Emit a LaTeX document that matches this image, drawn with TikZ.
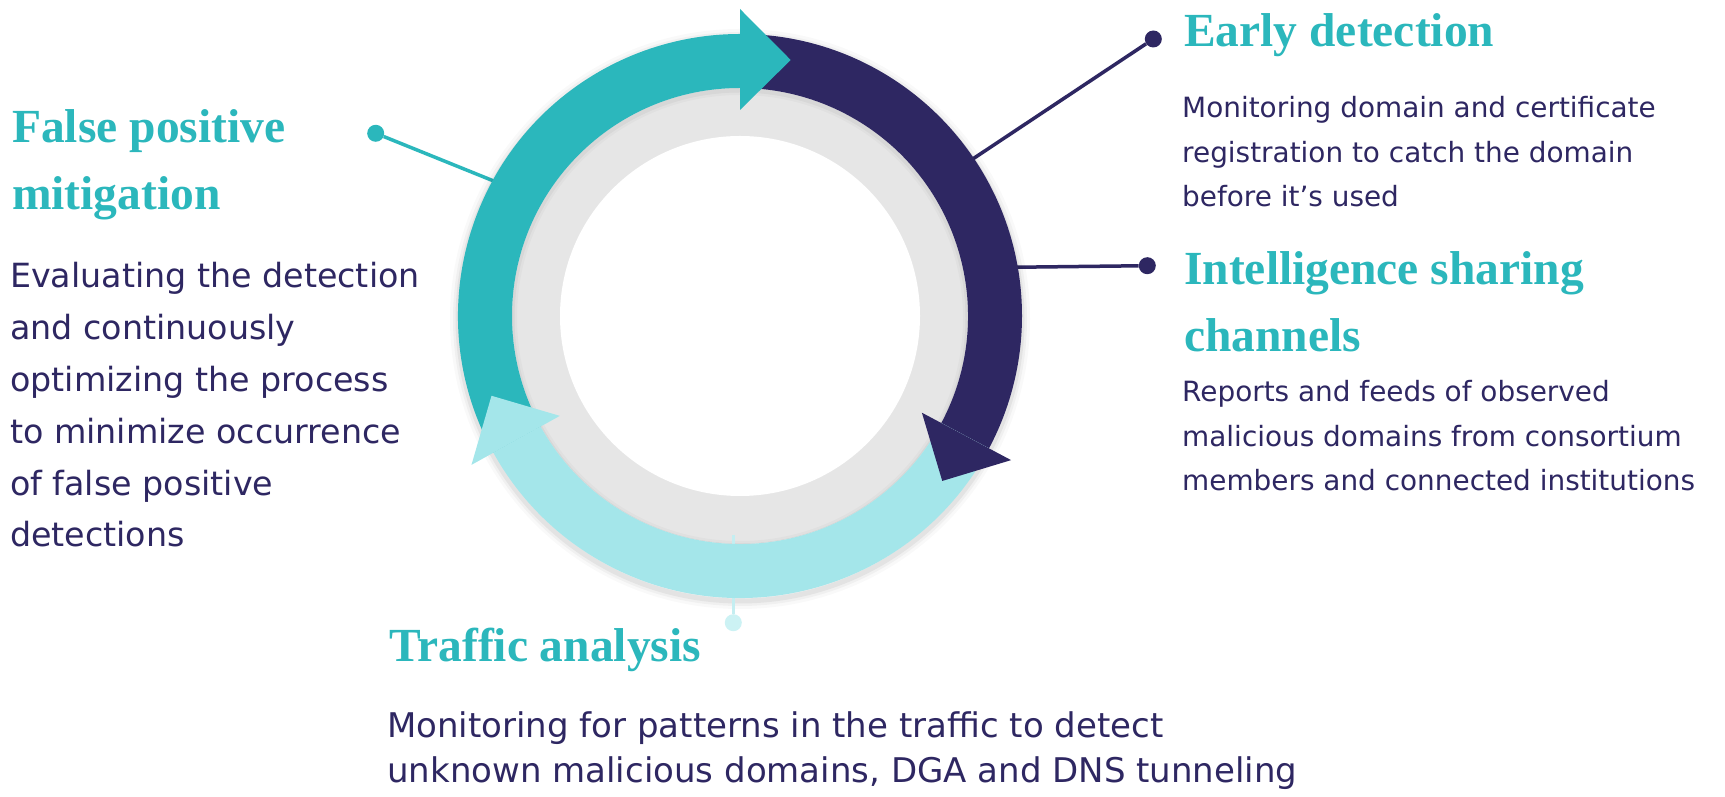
\documentclass[tikz,border=0pt]{standalone}
\usepackage{fontspec}
\newfontfamily\headfont{Liberation Serif}
\newfontfamily\bodyfont{DejaVu Sans}
\definecolor{tealc}{RGB}{43,183,188}
\definecolor{navyc}{RGB}{46,39,98}
\definecolor{lightc}{RGB}{164,230,234}
\definecolor{greyc}{RGB}{230,230,230}
\definecolor{dotlight}{RGB}{204,242,244}
\definecolor{linelight}{RGB}{196,238,241}
\newcommand{\lns}[1]{\vtop{\halign{##\hfil\cr#1\crcr}}}
\tikzset{
  headtxt/.style={anchor=base west, inner sep=0, text=tealc, font=\headfont\bfseries\fontsize{47.5}{67}\selectfont},
  bodyL/.style={anchor=base west, inner sep=0, text=navyc, font=\bodyfont\fontsize{33.3}{51.8}\selectfont},
  bodyR/.style={anchor=base west, inner sep=0, text=navyc, font=\bodyfont\fontsize{27.9}{44.5}\selectfont},
  bodyB/.style={anchor=base west, inner sep=0, text=navyc, font=\bodyfont\fontsize{34}{45}\selectfont},
  pin dot/.style={circle, inner sep=0, minimum size=17},
  pin line/.style={line width=3.5, shorten <=-15},
}
\begin{document}
\begin{tikzpicture}[x=1pt, y=1pt]
\fill[white] (0,0) rectangle (1725,797);
\useasboundingbox (0,0) rectangle (1725,797);
\coordinate (C) at (740,481);

% connectors (under the ring)
\coordinate (fpring) at ([shift={(151.3:282)}]C);
\coordinate (edring) at ([shift={(34:282)}]C);
\coordinate (isring) at ([shift={(9.96:282)}]C);
\node[pin dot, fill=tealc] (fpdot) at (375.7,663.7) {};
\node[pin dot, fill=navyc] (eddot) at (1153.3,758) {};
\node[pin dot, fill=navyc] (isdot) at (1147.3,531.3) {};
\draw[pin line, tealc] (fpring) -- (fpdot);
\draw[pin line, navyc] (edring) -- (eddot);
\draw[pin line, navyc] (isring) -- (isdot);

% shadows
\foreach \w/\o in {16/0.025, 10/0.035, 5/0.05} {
  \draw[black, opacity=\o, line width=\w] ([yshift=-3]C) circle[radius=282];
}
% grey ring
\fill[greyc] (C) circle[radius=228];
\foreach \w/\o in {10/0.025, 5/0.04} {
  \draw[black, opacity=\o, line width=\w] ([yshift=-2]C) circle[radius=228];
}
\fill[white] (C) circle[radius=180];

% traffic connector (over grey, under band)
\coordinate (taring) at (733.3,262);
\node[pin dot, fill=dotlight] (tadot) at (733.3,174.3) {};
\draw[line width=3.5, linelight] (taring) -- (tadot);

% bands
\fill[tealc] ([shift={(209:282)}]C) arc[start angle=209, end angle=90, radius=282]
  -- ([shift={(90:228)}]C) arc[start angle=90, end angle=209, radius=228] -- cycle;
\fill[navyc] ([shift={(90:282)}]C) arc[start angle=90, end angle=-28, radius=282]
  -- ([shift={(-28:228)}]C) arc[start angle=-28, end angle=90, radius=228] -- cycle;
\fill[lightc] ([shift={(-28:282)}]C) arc[start angle=-28, end angle=-151, radius=282]
  -- ([shift={(-151:228)}]C) arc[start angle=-151, end angle=-28, radius=228] -- cycle;

% arrowheads
\fill[tealc] ([shift={(90:206)}]C) -- ([shift={(90:307)}]C) -- ([shift={(78.8:261)}]C) -- cycle;
\fill[navyc] ([shift={(-28:206)}]C) -- ([shift={(-28:307)}]C) -- ([shift={(-39.2:261)}]C) -- cycle;
\fill[lightc] ([shift={(209:206)}]C) -- ([shift={(209:307)}]C) -- ([shift={(197.8:261)}]C) -- cycle;

% texts
\node[headtxt] (fph) at (12,654) {\lns{False positive\cr mitigation}};
\node[bodyL] (fpb) at (10,509) {\lns{Evaluating the detection\cr and continuously\cr optimizing the process\cr to minimize occurrence\cr of false positive\cr detections}};

\node[headtxt] (edh) at (1184,750) {\lns{Early detection}};
\node[bodyR] (edb) at (1182,679) {\lns{Monitoring domain and certificate\cr registration to catch the domain\cr before it’s used}};

\node[headtxt] (ish) at (1184,512) {\lns{Intelligence sharing\cr channels}};
\node[bodyR] (isb) at (1182,395) {\lns{Reports and feeds of observed\cr malicious domains from consortium\cr members and connected institutions}};

\node[headtxt] (tah) at (389,135) {\lns{Traffic analysis}};
\node[bodyB] (tab) at (387,59) {\lns{Monitoring for patterns in the traffic to detect\cr unknown malicious domains, DGA and DNS tunneling}};
\end{tikzpicture}
\end{document}
